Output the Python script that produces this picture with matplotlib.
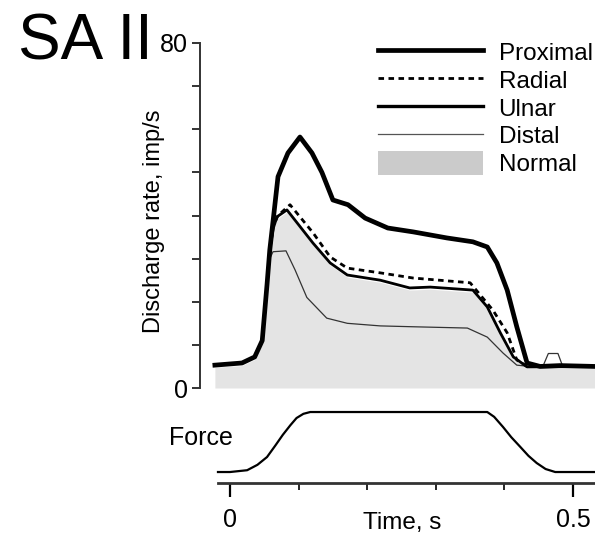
import numpy as np
import matplotlib
matplotlib.use('Agg')
import matplotlib.pyplot as plt
from matplotlib.lines import Line2D
from matplotlib.patches import Patch

plt.rcParams['font.family'] = ['Liberation Sans Narrow', 'Liberation Sans', 'DejaVu Sans']

# DATA (time in s, discharge rate in imp/s)
t_prox = [-0.022, 0.0175, 0.036, 0.047, 0.054, 0.058, 0.063, 0.070, 0.0845, 0.102, 0.1195,
          0.134, 0.150, 0.172, 0.197, 0.230, 0.267, 0.316, 0.354, 0.375, 0.389, 0.404,
          0.418, 0.433, 0.452, 0.481, 0.532]
proximal = [5.3, 5.8, 7.2, 11, 24, 32, 39, 49, 54.5, 58.2, 54.5,
            50, 43.6, 42.5, 39.4, 37.1, 36.2, 34.8, 33.9, 32.7, 29, 22.7,
            14.2, 5.8, 5.0, 5.2, 5.0]

t_rad = [-0.022, 0.0175, 0.036, 0.047, 0.054, 0.058, 0.063, 0.070, 0.0875, 0.121, 0.146,
         0.171, 0.219, 0.267, 0.350, 0.383, 0.404, 0.418, 0.433, 0.532]
radial = [5.3, 5.8, 7.2, 11, 24, 32, 37.5, 40, 42.5, 36, 30.4,
          27.8, 26.7, 25.5, 24.4, 18.1, 12.8, 6.5, 5.0, 5.0]

t_uln = [-0.022, 0.0175, 0.036, 0.047, 0.054, 0.058, 0.063, 0.0685, 0.083, 0.121, 0.146,
         0.171, 0.219, 0.262, 0.292, 0.354, 0.375, 0.394, 0.413, 0.433, 0.532]
ulnar = [5.3, 5.8, 7.2, 11, 24, 32, 37, 39.7, 41.3, 33.6, 29,
         26.2, 25, 23.2, 23.4, 22.7, 18.8, 12.8, 7.2, 4.9, 5.0]

t_dist = [-0.022, 0.0175, 0.036, 0.047, 0.054, 0.058, 0.0627, 0.0816, 0.0948, 0.112, 0.141,
          0.171, 0.219, 0.267, 0.346, 0.375, 0.398, 0.418, 0.437, 0.456, 0.464, 0.478,
          0.485, 0.532]
distal = [5.3, 5.8, 7.2, 11, 24, 30, 31.6, 31.8, 27.4, 21, 16.2,
          15, 14.4, 14.2, 13.9, 11.8, 8.1, 5.3, 5.0, 5.0, 8.0, 8.0,
          5.0, 5.0]

t_norm = [-0.022, 0.0175, 0.036, 0.047, 0.054, 0.058, 0.063, 0.0685, 0.083, 0.121, 0.146,
          0.171, 0.219, 0.262, 0.292, 0.354, 0.375, 0.394, 0.413, 0.433, 0.532]
normal = [4.8, 5.2, 6.6, 10.5, 23.5, 31.5, 36.5, 39.2, 40.8, 33.1, 28.5,
          25.7, 24.5, 22.7, 22.9, 22.2, 18.3, 12.3, 6.7, 4.8, 4.8]

t_force = [-0.0175, 0.0, 0.025, 0.04, 0.054, 0.066, 0.077, 0.088, 0.097, 0.107, 0.117,
           0.375, 0.385, 0.398, 0.41, 0.423, 0.435, 0.447, 0.46, 0.474, 0.532]
force = [0, 0, 0.03, 0.12, 0.25, 0.44, 0.62, 0.78, 0.9, 0.97, 1.0,
         1.0, 0.92, 0.75, 0.58, 0.42, 0.27, 0.15, 0.05, 0.0, 0.0]

xlim = (-0.0437, 0.532)

fig = plt.figure(figsize=(5.95, 5.37), dpi=100)

# DISCHARGE PANEL
ax = fig.add_axes([200 / 595, 149 / 537, 395 / 595, 345 / 537])
ax.fill_between(t_norm, 0, normal, color='#e4e4e4', lw=0, zorder=1)
ax.plot(t_dist, distal, color='#333333', lw=0.9, zorder=2)
ax.plot(t_uln, ulnar, color='black', lw=2.0, zorder=3)
ax.plot(t_rad, radial, color='black', lw=2.0, ls=(0, (2, 1.6)), zorder=3)
ax.plot(t_prox, proximal, color='black', lw=3.4, zorder=4)
ax.set_xlim(*xlim)
ax.set_ylim(0, 80)
for s in ['top', 'right', 'bottom']:
    ax.spines[s].set_visible(False)
ax.spines['left'].set_color('#333333')
ax.spines['left'].set_linewidth(1.4)
ax.set_xticks([])
ax.set_yticks(np.arange(0, 81, 10))
ax.set_yticklabels(['0', '', '', '', '', '', '', '', '80'])
ax.tick_params(axis='y', length=6, width=1.4, color='#333333', labelsize=18, pad=3)
ax.set_ylabel('Discharge rate, imp/s', fontsize=17)
ax.yaxis.set_label_coords(-0.088, 0.483)

handles = [Line2D([], [], color='black', lw=3.4),
           Line2D([], [], color='black', lw=2.0, ls=(0, (2, 1.6))),
           Line2D([], [], color='black', lw=2.4),
           Line2D([], [], color='#555555', lw=0.9),
           Patch(facecolor='#cbcbcb', edgecolor='none')]
ax.legend(handles, ['Proximal', 'Radial', 'Ulnar', 'Distal', 'Normal'],
          loc='upper left', bbox_to_anchor=(378 / 595, 1 - 40 / 537),
          bbox_transform=fig.transFigure, frameon=False, fontsize=17.5,
          borderpad=0, borderaxespad=0, handlelength=4.3, handleheight=1.1,
          handletextpad=0.66, labelspacing=0.12)

# FORCE PANEL
ax2 = fig.add_axes([200 / 595, 54 / 537, 395 / 595, 78 / 537])
ax2.plot(t_force, force, color='black', lw=1.6)
ax2.set_xlim(*xlim)
ax2.set_ylim(-0.183, 1.117)
for s in ['top', 'right', 'left']:
    ax2.spines[s].set_visible(False)
ax2.spines['bottom'].set_bounds(-0.0175, xlim[1])
ax2.spines['bottom'].set_linewidth(2)
ax2.spines['bottom'].set_color('#333333')
ax2.set_yticks([])
ax2.set_xticks([0, 0.5])
ax2.set_xticklabels(['0', '0.5'])
ax2.set_xticks([0.1, 0.2, 0.3, 0.4], minor=True)
ax2.tick_params(axis='x', which='major', length=10, width=1.6, labelsize=18, pad=8)
ax2.tick_params(axis='x', which='minor', length=5, width=1.2)
ax2.set_xlabel('Time, s', fontsize=17.5)
ax2.xaxis.set_label_coords(0.511, -0.37)
ax2.text(-0.042, 0.57, 'Force', fontsize=18, ha='center', va='center')

fig.text(18 / 595, (537 - 60) / 537, 'SA II', fontsize=46, family='Liberation Sans',
         va='baseline', ha='left')

fig.savefig('out.png', dpi=100)
